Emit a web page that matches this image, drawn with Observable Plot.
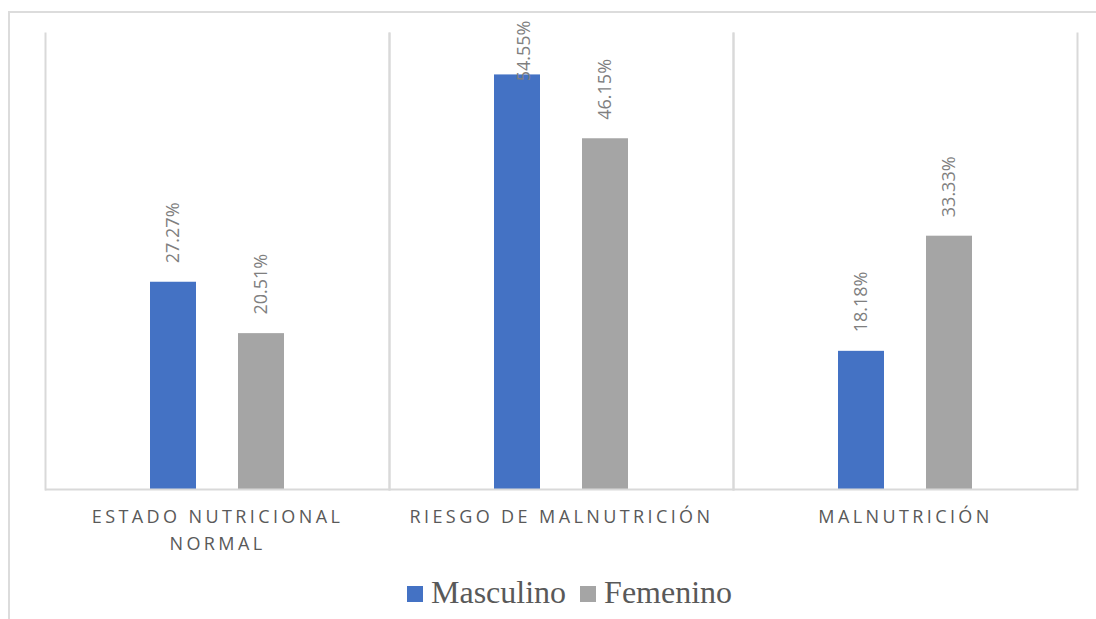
<!DOCTYPE html>
<html>
<head>
<meta charset="utf-8">
<script src="https://cdn.jsdelivr.net/npm/d3@7"></script>
<script src="https://cdn.jsdelivr.net/npm/@observablehq/plot@0.6"></script>
<style>
  html, body { margin: 0; padding: 0; background: #fff; }
  body { position: relative; width: 1096px; height: 619px; overflow: hidden; }
  #frame { position: absolute; left: 8px; top: 11px; width: 1200px; height: 700px;
           border-top: 2px solid #dcdcdc; border-left: 2px solid #dcdcdc; pointer-events: none; }
  #chart { position: absolute; left: 0; top: 0; }
  #chart g[aria-label="fx-axis tick label"] text { letter-spacing: 3.4px; }
  #legend { position: absolute; left: 407px; top: 577px; display: flex; align-items: center;
            font-family: "Liberation Serif", "Times New Roman", serif; font-size: 32px; line-height: 31px; color: #595959; }
  #legend .item { display: flex; align-items: center; margin-right: 14px; }
  #legend .sw { width: 16px; height: 16px; margin-right: 8px; margin-top: 2px; }
</style>
</head>
<body>
<div id="chart"></div>
<div id="frame"></div>
<div id="legend"></div>
<script>
const categories = ["Estado nutricional normal", "Riesgo de malnutrición", "Malnutrición"];
const tickLabels = ["ESTADO NUTRICIONAL\nNORMAL", "RIESGO DE MALNUTRICIÓN", "MALNUTRICIÓN"];
const series = ["Masculino", "Femenino"];
const masculino = [27.27, 54.55, 18.18];
const femenino = [20.51, 46.15, 33.33];
const colors = ["#4472C4", "#A5A5A5"];
const yMax = 60;
const labelRoom = 11;

const data = [];
categories.forEach((c, i) => {
  data.push({category: c, series: series[0], value: masculino[i]});
  data.push({category: c, series: series[1], value: femenino[i]});
});
const fmt = d => d.value.toFixed(2) + "%";
const fits = d => d.value + labelRoom <= yMax;

const chart = Plot.plot({
  width: 1096,
  height: 576,
  marginLeft: 44,
  marginRight: 18,
  marginTop: 33,
  marginBottom: 87,
  style: {fontFamily: "Open Sans", background: "transparent"},
  fx: {domain: categories, padding: 0, label: null},
  x: {domain: series, paddingInner: 0.474, paddingOuter: 1.17, axis: null},
  y: {domain: [0, yMax], axis: null},
  color: {domain: series, range: colors},
  marks: [
    Plot.frame({anchor: "left", stroke: "#d9d9d9", strokeWidth: 2}),
    Plot.frame({anchor: "right", stroke: "#d9d9d9", strokeWidth: 2}),
    Plot.barY(data, {fx: "category", x: "series", y: "value", fill: "series"}),
    Plot.ruleY([0], {stroke: "#d9d9d9", strokeWidth: 2}),
    Plot.text(data.filter(fits), {fx: "category", x: "series", y: "value", text: fmt,
      rotate: -90, textAnchor: "start", dy: -19, fill: "#7f7f7f", fontSize: 18, fontFamily: "Open Sans"}),
    Plot.text(data.filter(d => !fits(d)), {fx: "category", x: "series", frameAnchor: "top", text: fmt,
      rotate: -90, textAnchor: "end", dy: -13, fill: "#7f7f7f", fontSize: 18, fontFamily: "Open Sans"}),
    Plot.axisFx({anchor: "bottom", tickSize: 0, tickPadding: 14, fontSize: 18, lineHeight: 1.52,
      fill: "#595959", label: null, fontFamily: "Open Sans",
      tickFormat: d => tickLabels[categories.indexOf(d)]})
  ]
});
document.getElementById("chart").appendChild(chart);

const legend = document.getElementById("legend");
series.forEach((s, i) => {
  const item = document.createElement("div");
  item.className = "item";
  const sw = document.createElement("span");
  sw.className = "sw";
  sw.style.background = colors[i];
  const t = document.createElement("span");
  t.textContent = s;
  item.appendChild(sw);
  item.appendChild(t);
  legend.appendChild(item);
});
</script>
</body>
</html>
